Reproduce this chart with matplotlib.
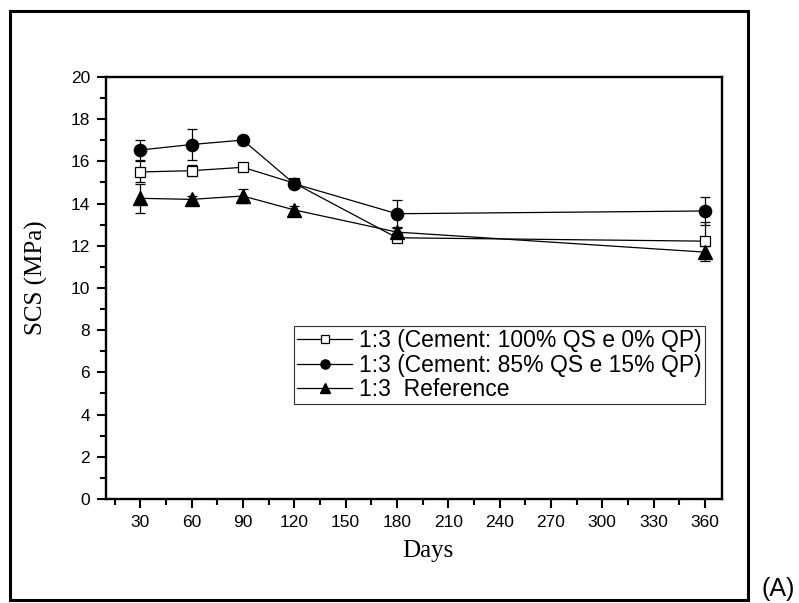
import numpy as np
import matplotlib
matplotlib.use("Agg")
import matplotlib.pyplot as plt
from matplotlib.patches import Rectangle
from matplotlib.lines import Line2D
from matplotlib.ticker import MultipleLocator

# Datos
days = [30, 60, 90, 120, 180, 360]

qs100 = [15.50, 15.56, 15.72, 14.97, 12.38, 12.22]
qs100_err = [0.50, 0.25, 0.12, 0.15, 0.20, 0.93]

qs85 = [16.54, 16.80, 17.01, 14.94, 13.52, 13.65]
qs85_err = [0.48, 0.75, 0.20, 0.15, 0.65, 0.68]

ref = [14.25, 14.20, 14.36, 13.70, 12.65, 11.70]
ref_err = [0.70, 0.15, 0.35, 0.20, 0.20, 0.30]

labels = [
    "1:3 (Cement: 100% QS e 0% QP)",
    "1:3 (Cement: 85% QS e 15% QP)",
    "1:3  Reference",
]

sans = ["Liberation Sans", "DejaVu Sans"]
serif = ["Liberation Serif", "DejaVu Serif"]
plt.rcParams["font.family"] = sans

fig = plt.figure(figsize=(7.99, 6.03), dpi=100)
ax = fig.add_axes([0.1327, 0.1725, 0.7709, 0.6998])

err_kw = dict(color="black", linewidth=0.9, elinewidth=0.9, capsize=3.6, capthick=0.9)

styles = [
    dict(marker="s", markersize=7.2, markerfacecolor="white", markeredgewidth=0.9),
    dict(marker="o", markersize=8.8, markerfacecolor="black"),
    dict(marker="^", markersize=9.5, markerfacecolor="black"),
]

series = [(qs100, qs100_err), (qs85, qs85_err), (ref, ref_err)]
for (vals, errs), st in zip(series, styles):
    ax.errorbar(days, vals, yerr=errs, markeredgecolor="black", zorder=3,
                **st, **err_kw)

ax.set_xlim(10, 370)
ax.set_ylim(0, 20)
ax.xaxis.set_major_locator(MultipleLocator(30))
ax.xaxis.set_minor_locator(MultipleLocator(15))
ax.set_xticks(np.arange(30, 361, 30))
ax.yaxis.set_major_locator(MultipleLocator(2))
ax.yaxis.set_minor_locator(MultipleLocator(1))

for s in ax.spines.values():
    s.set_linewidth(1.7)
ax.tick_params(which="major", direction="out", length=6.5, width=1.5, pad=5,
               labelsize=12.5)
ax.tick_params(which="minor", direction="out", length=4, width=1.5)
ax.tick_params(axis="x", which="both", top=False)
ax.tick_params(axis="y", which="both", right=False)

ax.set_xlabel("Days", fontsize=18, family=serif)
ax.set_ylabel("SCS (MPa)", fontsize=18, family=serif)
ax.xaxis.set_label_coords(0.523, -0.097)
ax.yaxis.set_label_coords(-0.094, 0.524)

# Leyenda sin barras de error
handles = []
for st, lab in zip(styles, labels):
    st_leg = dict(st)
    st_leg["markersize"] = st["markersize"] * 0.75
    handles.append(Line2D([], [], color="black", linewidth=0.9,
                          markeredgecolor="black", label=lab, **st_leg))

leg = ax.legend(handles=handles, loc="upper left", bbox_to_anchor=(0.305, 0.41),
                borderaxespad=0, prop={"family": sans, "size": 16.5}, frameon=True,
                fancybox=False, edgecolor="black", handlelength=2.4,
                handletextpad=0.3, labelspacing=0.05, borderpad=0.15)
leg.get_frame().set_linewidth(0.8)

# Marco exterior
fig.patches.append(Rectangle((0.0125, 0.005), 0.9237, 0.9768, transform=fig.transFigure,
                             fill=False, edgecolor="black", linewidth=2.2))
fig.text(0.953, 0.012, "(A)", fontsize=18, family=sans, va="baseline", ha="left")

plt.savefig("out.png", dpi=100)
plt.close()
